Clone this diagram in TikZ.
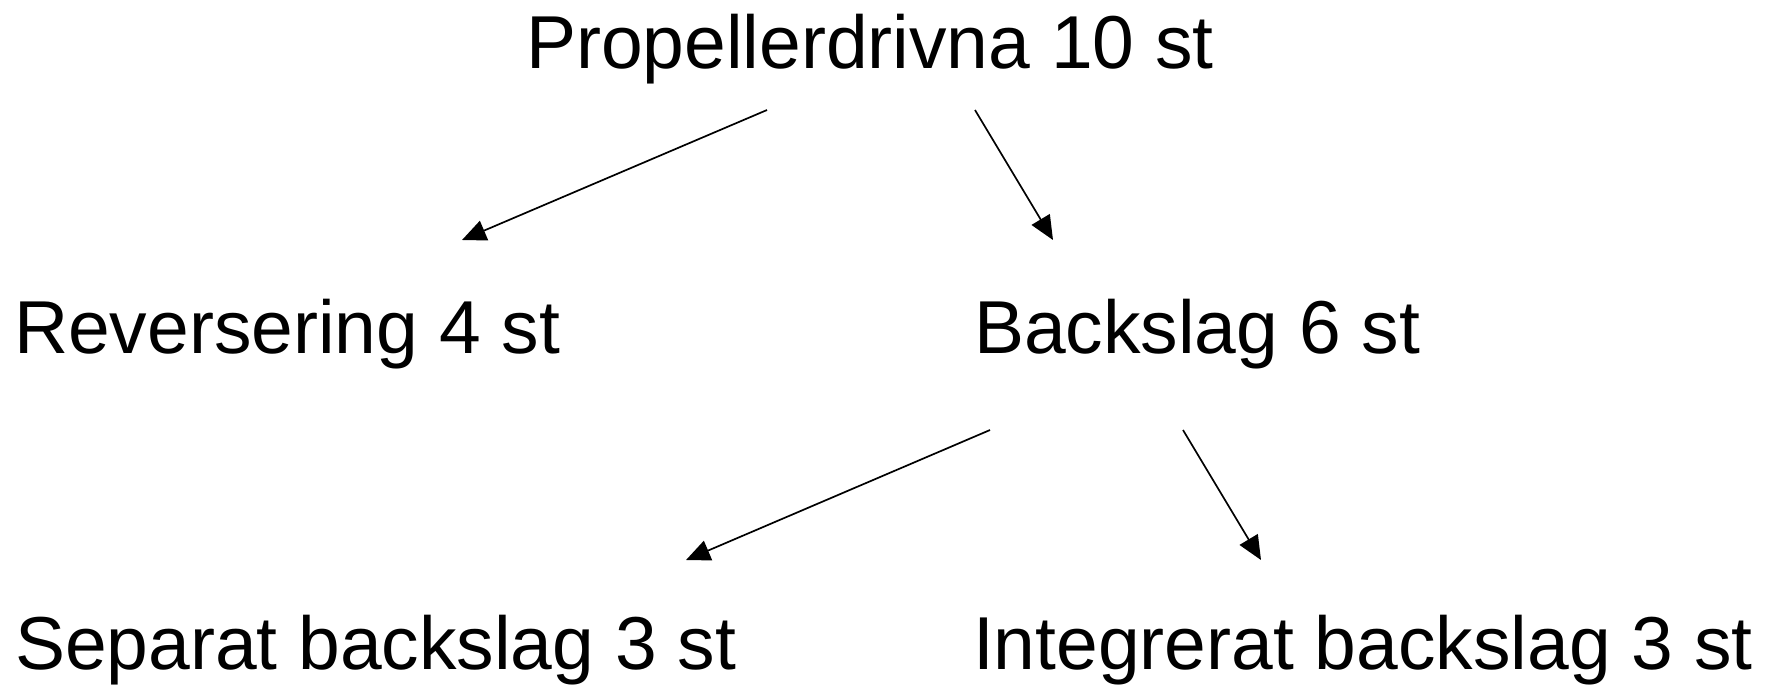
\documentclass[tikz,border=0pt]{standalone}
\usepackage{fontspec}
\setmainfont{Liberation Sans}
\usetikzlibrary{arrows.meta}
\tikzset{
  lbl/.style={anchor=base west,inner sep=0pt,outer sep=0pt,font=\fontsize{75}{90}\selectfont},
  conn/.style={line width=1.7pt,-{Triangle[length=24pt,width=21pt]}}
}
\begin{document}
\begin{tikzpicture}[x=1pt,y=-1pt]
\useasboundingbox (0,0) rectangle (1773,689);
\node[lbl] (top) at (526,68) {Propellerdrivna 10 st};
\node[lbl] (rev) at (14,353) {Reversering 4 st};
\node[lbl] (back) at (974,353) {Backslag 6 st};
\node[lbl] (sep) at (15,669) {Separat backslag 3 st};
\node[lbl] (int) at (973,669) {Integrerat backslag 3 st};
\coordinate (a1s) at (767,110);
\coordinate (a1e) at (462,240);
\coordinate (a2s) at (975,110);
\coordinate (a2e) at (1053,240);
\coordinate (a3s) at (990,430);
\coordinate (a3e) at (686,560);
\coordinate (a4s) at (1183,430);
\coordinate (a4e) at (1261,560);
\draw[conn] (a1s) -- (a1e);
\draw[conn] (a2s) -- (a2e);
\draw[conn] (a3s) -- (a3e);
\draw[conn] (a4s) -- (a4e);
\end{tikzpicture}
\end{document}
